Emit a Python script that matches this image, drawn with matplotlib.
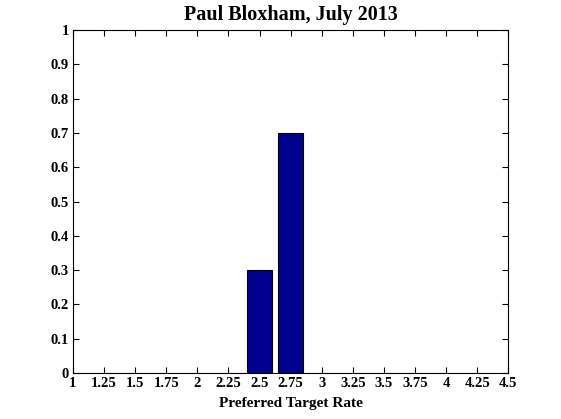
import matplotlib
matplotlib.use("Agg")
import matplotlib.pyplot as plt

rates = [1.0, 1.25, 1.5, 1.75, 2.0, 2.25, 2.5, 2.75, 3.0, 3.25, 3.5, 3.75, 4.0, 4.25, 4.5]
shares = [0, 0, 0, 0, 0, 0, 0.3, 0.7, 0, 0, 0, 0, 0, 0, 0]
xtick_labels = ["1", "1.25", "1.5", "1.75", "2", "2.25", "2.5", "2.75", "3", "3.25", "3.5", "3.75", "4", "4.25", "4.5"]
yticks = [0, 0.1, 0.2, 0.3, 0.4, 0.5, 0.6, 0.7, 0.8, 0.9, 1]
ytick_labels = ["0", "0.1", "0.2", "0.3", "0.4", "0.5", "0.6", "0.7", "0.8", "0.9", "1"]

plt.rcParams['font.family'] = ['Liberation Serif', 'DejaVu Serif']
plt.rcParams['font.weight'] = 'bold'

fig = plt.figure(figsize=(5.61, 4.19), dpi=100)
ax = fig.add_axes([0.130, 0.110, 0.776, 0.818])

xs = [r for r, s in zip(rates, shares) if s > 0]
ys = [s for s in shares if s > 0]
ax.bar(xs, ys, width=0.2, color='#00008f', edgecolor='black', linewidth=0.8, zorder=2)

ax.set_xlim(1, 4.5)
ax.set_ylim(0, 1)
ax.set_xticks(rates)
ax.set_xticklabels(xtick_labels, fontsize=10.5, fontweight='bold')
ax.set_yticks(yticks)
ax.set_yticklabels(ytick_labels, fontsize=10.5, fontweight='bold')
ax.tick_params(direction='in', top=True, right=True, length=4, width=0.8, pad=3)
for sp in ax.spines.values():
    sp.set_linewidth(0.8)

ax.set_xlabel("Preferred Target Rate", fontsize=11, fontweight='bold', labelpad=5)
ax.set_title("Paul Bloxham, July 2013", fontsize=14.5, fontweight='bold', pad=7)

fig.savefig("out.png", dpi=100)
